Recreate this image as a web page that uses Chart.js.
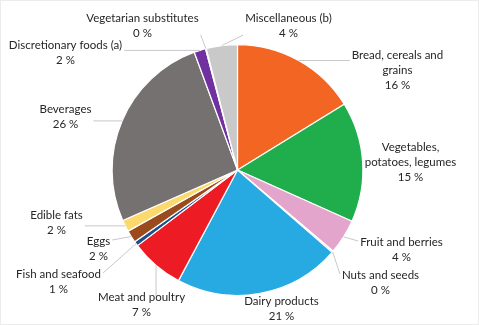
<!DOCTYPE html>
<html>
<head>
<meta charset="utf-8">
<script src="https://cdn.jsdelivr.net/npm/chart.js@4"></script>
<style>
html,body{margin:0;padding:0;background:#fff;}
#wrap{position:relative;width:479px;height:325px;box-sizing:border-box;border:1px solid #ececec;}
canvas{display:block;}
</style>
</head>
<body>
<div id="wrap"><canvas id="c" width="477" height="323"></canvas></div>
<script>
// ---- data ----
const categories = [
  "Bread, cereals and grains", "Vegetables, potatoes, legumes", "Fruit and berries",
  "Nuts and seeds", "Dairy products", "Meat and poultry", "Fish and seafood",
  "Eggs", "Edible fats", "Beverages", "Discretionary foods (a)",
  "Vegetarian substitutes", "Miscellaneous (b)"
];
const shares = [16.2, 15.5, 4.5, 0.2, 21.4, 6.9, 0.6, 1.6, 1.5, 26.0, 1.5, 0.1, 4.0];
const percentLabels = ["16 %", "15 %", "4 %", "0 %", "21 %", "7 %", "1 %", "2 %", "2 %", "26 %", "2 %", "0 %", "4 %"];
// label text lines (wrapping as in the source)
const labelLines = [
  ["Bread, cereals and", "grains"], ["Vegetables,", "potatoes, legumes"], ["Fruit and berries"],
  ["Nuts and seeds"], ["Dairy products"], ["Meat and poultry"], ["Fish and seafood"],
  ["Eggs"], ["Edible fats"], ["Beverages"], ["Discretionary foods (a)"],
  ["Vegetarian substitutes"], ["Miscellaneous (b)"]
];
const colors = ["#f26522", "#1fae4b", "#e4a5cc", "#f3d2c1", "#27aae1", "#ed1c24", "#1e4e8c",
  "#9b4a1c", "#fbd96c", "#767171", "#7030a0", "#e8e8e8", "#c9c9c9"];

// label placement (centre of label block, relative to pie centre, in px)
const labelPos = [
  [160, -100], [173, -8], [164, 80], [143, 113], [44, 139], [-96, 135], [-179, 112],
  [-139, 79], [-181, 53], [-172, -53], [-172, -117], [-95, -144], [51, -144]
];

const FONT = "11.5px Lato";
const LINE_H = 15;

const outsideLabels = {
  id: 'outsideLabels',
  afterDraw(chart) {
    const ctx = chart.ctx;
    const meta = chart.getDatasetMeta(0);
    ctx.save();
    ctx.font = FONT;
    ctx.textAlign = 'center';
    ctx.textBaseline = 'middle';
    meta.data.forEach((arc, i) => {
      const p = arc.getProps(['x', 'y', 'startAngle', 'endAngle', 'outerRadius'], true);
      const mid = (p.startAngle + p.endAngle) / 2;
      const ax = p.x + Math.cos(mid) * p.outerRadius;
      const ay = p.y + Math.sin(mid) * p.outerRadius;
      const lines = labelLines[i].concat([percentLabels[i]]);
      const cx = p.x + labelPos[i][0];
      const cy = p.y + labelPos[i][1];
      const h = lines.length * LINE_H;
      let w = 0;
      lines.forEach(l => { w = Math.max(w, ctx.measureText(l).width); });
      const left = cx - w / 2 - 2, right = cx + w / 2 + 2;
      const top = cy - h / 2, bottom = cy + h / 2;
      // leader line to nearest box point
      const ex = Math.min(Math.max(ax, left), right);
      const ey = Math.min(Math.max(ay, top + 6), bottom - 6);
      const d = Math.hypot(ex - ax, ey - ay);
      if (d > 12) {
        ctx.strokeStyle = '#c8c8c8';
        ctx.lineWidth = 1;
        ctx.beginPath();
        ctx.moveTo(ax, ay);
        ctx.lineTo(ex, ey);
        ctx.stroke();
      }
      ctx.fillStyle = '#262626';
      lines.forEach((l, k) => {
        ctx.fillText(l, cx, top + LINE_H / 2 + k * LINE_H);
      });
    });
    ctx.restore();
  }
};

new Chart(document.getElementById('c'), {
  type: 'pie',
  data: {
    labels: categories,
    datasets: [{
      data: shares,
      backgroundColor: colors,
      borderColor: '#ffffff',
      borderWidth: 1.2
    }]
  },
  options: {
    responsive: false,
    animation: false,
    layout: { padding: { top: 43, bottom: 28, left: 110, right: 114 } },
    plugins: { legend: { display: false }, tooltip: { enabled: false } }
  },
  plugins: [outsideLabels]
});
</script>
</body>
</html>
